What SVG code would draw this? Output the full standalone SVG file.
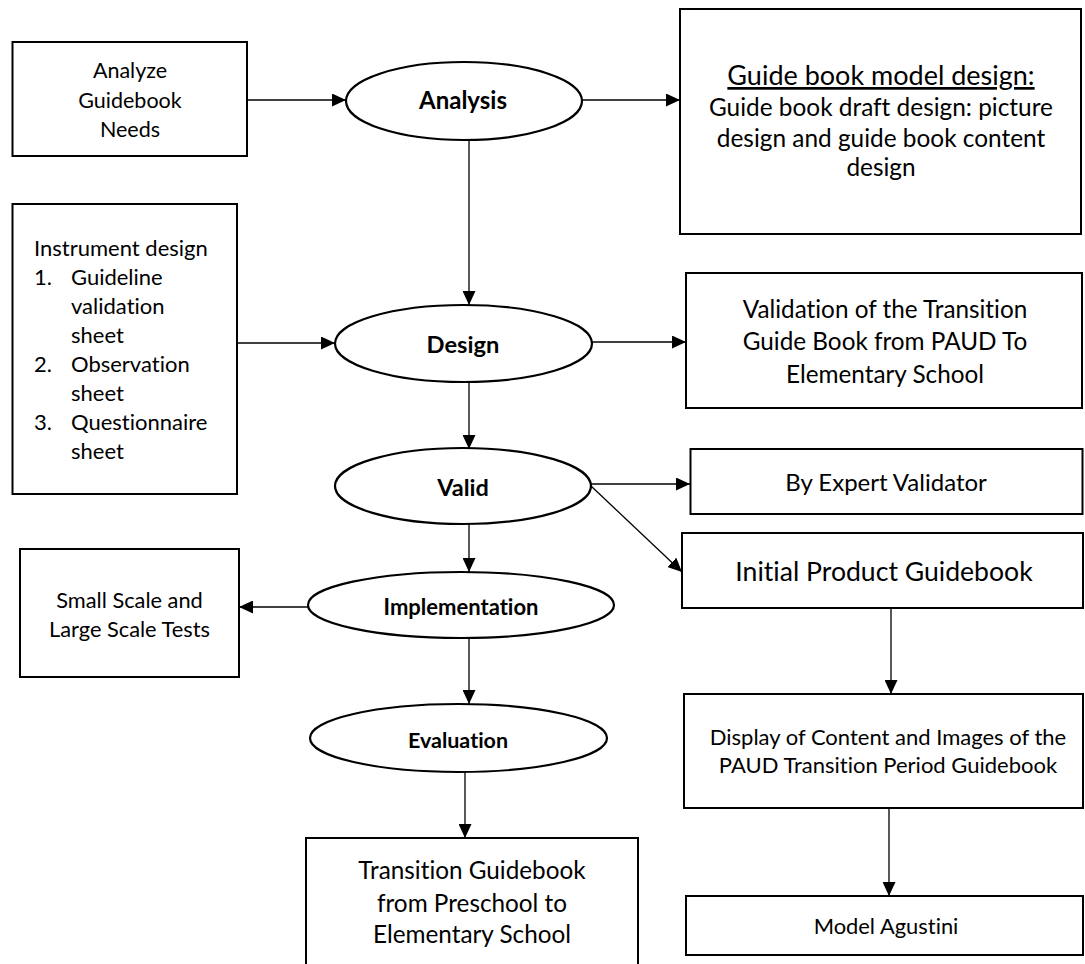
<svg xmlns="http://www.w3.org/2000/svg" width="1085" height="964" viewBox="0 0 1085 964">
<style>
  text { font-family: Lato, "Liberation Sans", sans-serif; fill: #000; font-variant-ligatures: none; }
  .box { fill: #fff; stroke: #000; stroke-width: 2; }
  .oval { fill: #fff; stroke: #000; stroke-width: 2.2; }
  .c { text-anchor: middle; }
  .b { font-weight: bold; }
  .conn line { stroke: #000; stroke-width: 1.3; fill: none; marker-end: url(#ah); }
</style>
<defs>
  <marker id="ah" markerUnits="userSpaceOnUse" markerWidth="14" markerHeight="13" refX="14" refY="6.5" orient="auto">
    <path d="M0,0 L14,6.5 L0,13 Z" fill="#000"/>
  </marker>
</defs>
<rect width="1085" height="964" fill="#fff"/>

<g id="connectors" class="conn">
  <line x1="247" y1="100" x2="346" y2="100"/>
  <line x1="582" y1="100" x2="680" y2="100"/>
  <line x1="469" y1="140" x2="469" y2="305"/>
  <line x1="237" y1="343" x2="335" y2="343"/>
  <line x1="592" y1="342" x2="686" y2="342"/>
  <line x1="469" y1="382" x2="469" y2="449"/>
  <line x1="591" y1="484" x2="690" y2="484"/>
  <line x1="591" y1="486" x2="682" y2="572"/>
  <line x1="469" y1="524" x2="469" y2="572"/>
  <line x1="308" y1="607" x2="239" y2="607"/>
  <line x1="469" y1="638" x2="469" y2="704"/>
  <line x1="465" y1="772" x2="465" y2="838"/>
  <line x1="891" y1="608" x2="891" y2="694"/>
  <line x1="889" y1="808" x2="889" y2="896"/>
</g>

<g id="analyze-needs">
  <rect class="box" x="12.5" y="42" width="234.5" height="114"/>
  <text class="c" x="130" y="78" font-size="21.5">Analyze</text>
  <text class="c" x="130" y="108" font-size="21.5">Guidebook</text>
  <text class="c" x="130" y="137" font-size="21.5">Needs</text>
</g>

<g id="analysis">
  <ellipse class="oval" cx="464" cy="101" rx="118" ry="39"/>
  <text class="c b" x="463" y="109" font-size="24">Analysis</text>
</g>

<g id="model-design">
  <rect class="box" x="680" y="9" width="401" height="225"/>
  <text class="c" x="881" y="85" font-size="27" text-decoration="underline">Guide book model design:</text>
  <text class="c" x="881" y="116" font-size="24.4">Guide book draft design: picture</text>
  <text class="c" x="881" y="147" font-size="24.4">design and guide book content</text>
  <text class="c" x="881" y="176" font-size="24.4">design</text>
</g>

<g id="instrument-design">
  <rect class="box" x="12.5" y="204" width="224.5" height="290"/>
  <text x="34" y="256" font-size="22">Instrument design</text>
  <text x="34" y="285" font-size="22">1.</text>
  <text x="71" y="285" font-size="22">Guideline</text>
  <text x="71" y="314" font-size="22">validation</text>
  <text x="71" y="343" font-size="22">sheet</text>
  <text x="34" y="372" font-size="22">2.</text>
  <text x="71" y="372" font-size="22">Observation</text>
  <text x="71" y="401" font-size="22">sheet</text>
  <text x="34" y="430" font-size="22">3.</text>
  <text x="71" y="430" font-size="22">Questionnaire</text>
  <text x="71" y="459" font-size="22">sheet</text>
</g>

<g id="design">
  <ellipse class="oval" cx="463.5" cy="343.5" rx="128.5" ry="38.5"/>
  <text class="c b" x="463" y="353" font-size="23.7">Design</text>
</g>

<g id="validation-guide">
  <rect class="box" x="686" y="273" width="396" height="135"/>
  <text class="c" x="885" y="318" font-size="24.3">Validation of the Transition</text>
  <text class="c" x="885" y="350" font-size="24.3">Guide Book from PAUD To</text>
  <text class="c" x="885" y="383" font-size="24.3">Elementary School</text>
</g>

<g id="valid">
  <ellipse class="oval" cx="463" cy="486" rx="128" ry="38"/>
  <text class="c b" x="463" y="496" font-size="23.5">Valid</text>
</g>

<g id="expert-validator">
  <rect class="box" x="690.5" y="449" width="392" height="65"/>
  <text class="c" x="886" y="491" font-size="24">By Expert Validator</text>
</g>

<g id="initial-product">
  <rect class="box" x="682" y="533" width="401" height="75"/>
  <text class="c" x="884" y="581" font-size="26.6">Initial Product Guidebook</text>
</g>

<g id="implementation">
  <ellipse class="oval" cx="461" cy="605" rx="153" ry="33"/>
  <text class="c b" x="461" y="615" font-size="22">Implementation</text>
</g>

<g id="small-large-tests">
  <rect class="box" x="20" y="549" width="219" height="128"/>
  <text class="c" x="129.5" y="608" font-size="21.8">Small Scale and</text>
  <text class="c" x="129.5" y="637" font-size="21.8">Large Scale Tests</text>
</g>

<g id="evaluation">
  <ellipse class="oval" cx="458.5" cy="738" rx="148.5" ry="34"/>
  <text class="c b" x="458" y="748" font-size="21.5">Evaluation</text>
</g>

<g id="transition-guidebook">
  <rect class="box" x="306" y="838" width="332" height="140"/>
  <text class="c" x="472" y="879" font-size="24.3">Transition Guidebook</text>
  <text class="c" x="472" y="912" font-size="24.3">from Preschool to</text>
  <text class="c" x="472" y="943" font-size="24.3">Elementary School</text>
</g>

<g id="display-content">
  <rect class="box" x="684" y="694" width="399" height="114"/>
  <text class="c" x="888" y="745" font-size="22">Display of Content and Images of the</text>
  <text class="c" x="888" y="773" font-size="22">PAUD Transition Period Guidebook</text>
</g>

<g id="model-agustini">
  <rect class="box" x="686" y="896" width="397" height="59"/>
  <text class="c" x="886" y="934" font-size="21.9">Model Agustini</text>
</g>
</svg>
